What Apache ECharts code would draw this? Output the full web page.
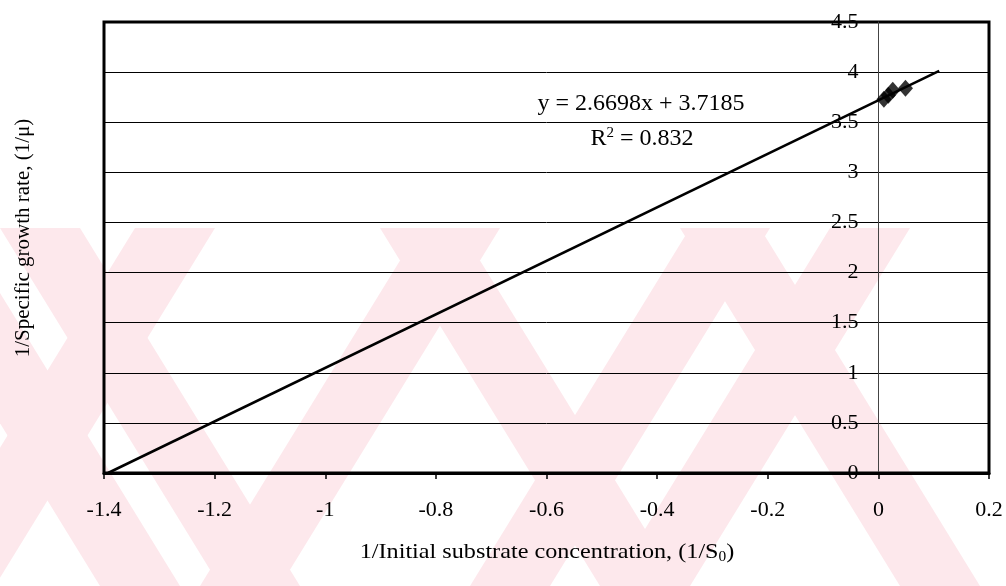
<!DOCTYPE html>
<html>
	<head>
		<meta charset="utf-8" />
		<title></title>
		<script type="text/javascript" src="https://cdn.jsdelivr.net/npm/echarts@6/dist/echarts.min.js"></script>
	</head>
	<body>
		<div id="main" style="width: 1006px; height: 586px;"></div>
	</body>
	<style>
		body{
			padding: 0px;
			margin: 0px;
			background: #fff;
		}
	</style>
	<script type="text/javascript">
// measured points (1/S0, 1/mu)
var xData = [0.010, 0.018, 0.026, 0.049]
var yData = [3.73, 3.77, 3.82, 3.84]
// linear trendline y = slope*x + intercept
var slope = 2.6698
var intercept = 3.7185
var r2 = 0.832
var trendRange = [-1.3928, 0.11]
var xTicks = [-1.4, -1.2, -1, -0.8, -0.6, -0.4, -0.2, 0, 0.2]
var yTicks = [0, 0.5, 1, 1.5, 2, 2.5, 3, 3.5, 4, 4.5]

var font = 'Liberation Serif'
var pink = '#fde8ec'
var gridLeft = 104, gridWidth = 885

// faint diagonal watermark stripes behind the chart
function band(x0, w, dx) {
	return [[x0, 228], [x0 + w, 228], [x0 + w + dx, 586], [x0 + dx, 586]]
}
var marks = []
;[-120, 0, 380, 680].forEach(function (s) {
	marks.push({type: 'polygon', z: -20, shape: {points: band(s, 80, 220)}, style: {fill: pink}})
})
;[135, 420, 690, 830].forEach(function (s) {
	marks.push({type: 'polygon', z: -20, shape: {points: band(s, 80, -220)}, style: {fill: pink}})
})

// the value axis sits on x = 0
var yOffset = -(0 - xTicks[0]) / (xTicks[xTicks.length - 1] - xTicks[0]) * gridWidth

var mychart = echarts.init(document.getElementById('main'))
mychart.setOption({
	animation: false,
	grid: {
		left: gridLeft,
		top: 22,
		width: gridWidth,
		height: 451,
		show: true,
		borderColor: '#000',
		borderWidth: 3,
		backgroundColor: 'transparent'
	},
	xAxis: {
		type: 'value',
		min: xTicks[0],
		max: xTicks[xTicks.length - 1],
		interval: 0.2,
		axisLine: {lineStyle: {color: '#000', width: 3}},
		axisTick: {show: true, length: 6, lineStyle: {color: '#000', width: 1.5}},
		axisLabel: {
			color: '#000', fontFamily: font, fontSize: 22, margin: 26,
			formatter: function (v) { return String(parseFloat(v.toFixed(1))) }
		},
		splitLine: {show: false}
	},
	yAxis: {
		type: 'value',
		min: yTicks[0],
		max: yTicks[yTicks.length - 1],
		interval: 0.5,
		offset: yOffset,
		axisLine: {show: true, onZero: false, lineStyle: {color: '#444', width: 1}},
		axisTick: {show: false},
		axisLabel: {
			color: '#000', fontFamily: font, fontSize: 22, margin: 20,
			formatter: function (v) { return String(parseFloat(v.toFixed(1))) }
		},
		splitLine: {show: true, lineStyle: {color: '#000', width: 1}}
	},
	graphic: marks.concat([
		{
			type: 'text', z: 100, x: 23, y: 238,
			rotation: Math.PI / 2,
			style: {
				text: '1/Specific growth rate, (1/\u03bc)', fill: '#000', font: '21px ' + font,
				align: 'center', verticalAlign: 'middle'
			}
		},
		{
			type: 'text', z: 100, x: 547, y: 552, scaleX: 1.1,
			style: {
				text: '1/Initial substrate concentration, (1/S{sub|0})',
				fill: '#000', font: '22px ' + font, align: 'center', verticalAlign: 'middle',
				rich: {sub: {fontSize: 14, fontFamily: font, padding: [10, 0, 0, 0]}}
			}
		},
		{
			type: 'text', z: 100, x: 641, y: 104,
			style: {
				text: 'y = ' + slope.toFixed(4) + 'x + ' + intercept.toFixed(4),
				fill: '#000', font: '24px ' + font, align: 'center', verticalAlign: 'middle'
			}
		},
		{
			type: 'text', z: 100, x: 642, y: 139,
			style: {
				text: 'R{sup|2} = ' + r2,
				fill: '#000', font: '24px ' + font, align: 'center', verticalAlign: 'middle',
				rich: {sup: {fontSize: 15, fontFamily: font, padding: [0, 0, 11, 0]}}
			}
		}
	]),
	series: [
		{
			type: 'line',
			data: trendRange.map(function (x) { return [x, slope * x + intercept] }),
			symbol: 'none',
			lineStyle: {color: '#000', width: 2.5},
			z: 3
		},
		{
			type: 'scatter',
			data: xData.map(function (x, i) { return [x, yData[i]] }),
			symbol: 'diamond',
			symbolSize: [15, 17],
			itemStyle: {color: '#000'},
			z: 4
		}
	]
})
	</script>
</html>
